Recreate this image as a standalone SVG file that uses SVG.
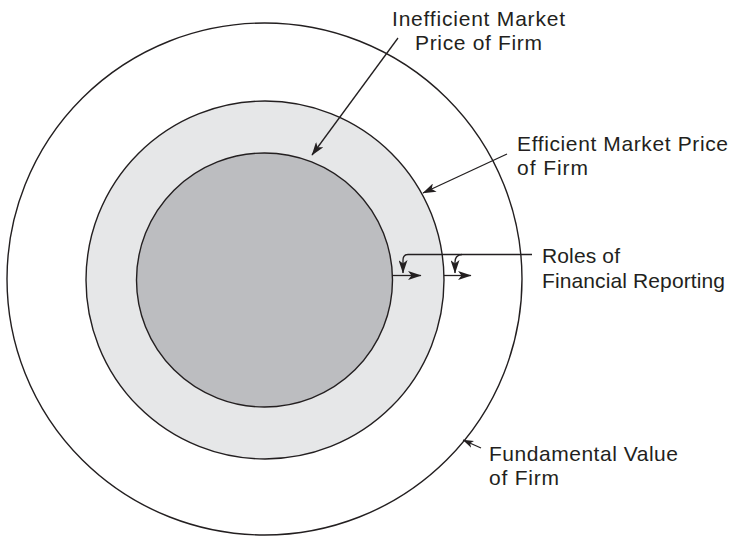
<svg xmlns="http://www.w3.org/2000/svg" width="735" height="536" viewBox="0 0 735 536">
  <style>
    .ring { stroke: #231f20; stroke-width: 1.4; }
    .conn { fill: none; stroke: #231f20; stroke-width: 1.3; }
    .lbl { font-family: "Liberation Sans", Arial, sans-serif; font-size: 21px; fill: #231f20; }
  </style>
  <defs>
    <marker id="ah" viewBox="0 0 12 8" refX="11.5" refY="4" markerWidth="14" markerHeight="9" markerUnits="userSpaceOnUse" orient="auto">
      <path d="M0,0 L12,4 L0,8 L3,4 z" fill="#231f20"/>
    </marker>
    <marker id="ahs" viewBox="0 0 12 8" refX="11.5" refY="4" markerWidth="11" markerHeight="8" markerUnits="userSpaceOnUse" orient="auto">
      <path d="M0,0 L12,4 L0,8 L3,4 z" fill="#231f20"/>
    </marker>
  </defs>

  <g id="fundamental-value">
    <ellipse class="ring" cx="264.5" cy="279" rx="257.5" ry="256" fill="#ffffff"/>
  </g>
  <g id="efficient-price">
    <ellipse class="ring" cx="265" cy="280" rx="179" ry="179" fill="#e6e7e8"/>
  </g>
  <g id="inefficient-price">
    <ellipse class="ring" cx="264.5" cy="280" rx="128" ry="127" fill="#bcbdc0"/>
  </g>

  <g id="connectors">
    <path class="conn" d="M398,38 L312,155" marker-end="url(#ah)"/>
    <path class="conn" d="M507,154 L423,193" marker-end="url(#ah)"/>
    <path class="conn" d="M532,254.5 H408 Q403,254.5 403,260 V273" marker-end="url(#ah)"/>
    <path class="conn" d="M462,254.5 Q455,255 455,262 V273" marker-end="url(#ah)"/>
    <path class="conn" d="M392,275.5 H421" marker-end="url(#ah)"/>
    <path class="conn" d="M444,275.5 H471" marker-end="url(#ah)"/>
    <path class="conn" d="M481,448 L463,440" marker-end="url(#ahs)"/>
  </g>

  <g id="label-inefficient">
    <text class="lbl" x="392" y="26" textLength="173" lengthAdjust="spacing">Inefficient Market</text>
    <text class="lbl" x="415" y="50" textLength="127" lengthAdjust="spacing">Price of Firm</text>
  </g>
  <g id="label-efficient">
    <text class="lbl" x="517" y="151" textLength="211" lengthAdjust="spacing">Efficient Market Price</text>
    <text class="lbl" x="517" y="175" textLength="71" lengthAdjust="spacing">of Firm</text>
  </g>
  <g id="label-roles">
    <text class="lbl" x="542" y="263" textLength="78" lengthAdjust="spacing">Roles of</text>
    <text class="lbl" x="542" y="288" textLength="183" lengthAdjust="spacing">Financial Reporting</text>
  </g>
  <g id="label-fundamental">
    <text class="lbl" x="489" y="461" textLength="189" lengthAdjust="spacing">Fundamental Value</text>
    <text class="lbl" x="489" y="485" textLength="70" lengthAdjust="spacing">of Firm</text>
  </g>
</svg>
